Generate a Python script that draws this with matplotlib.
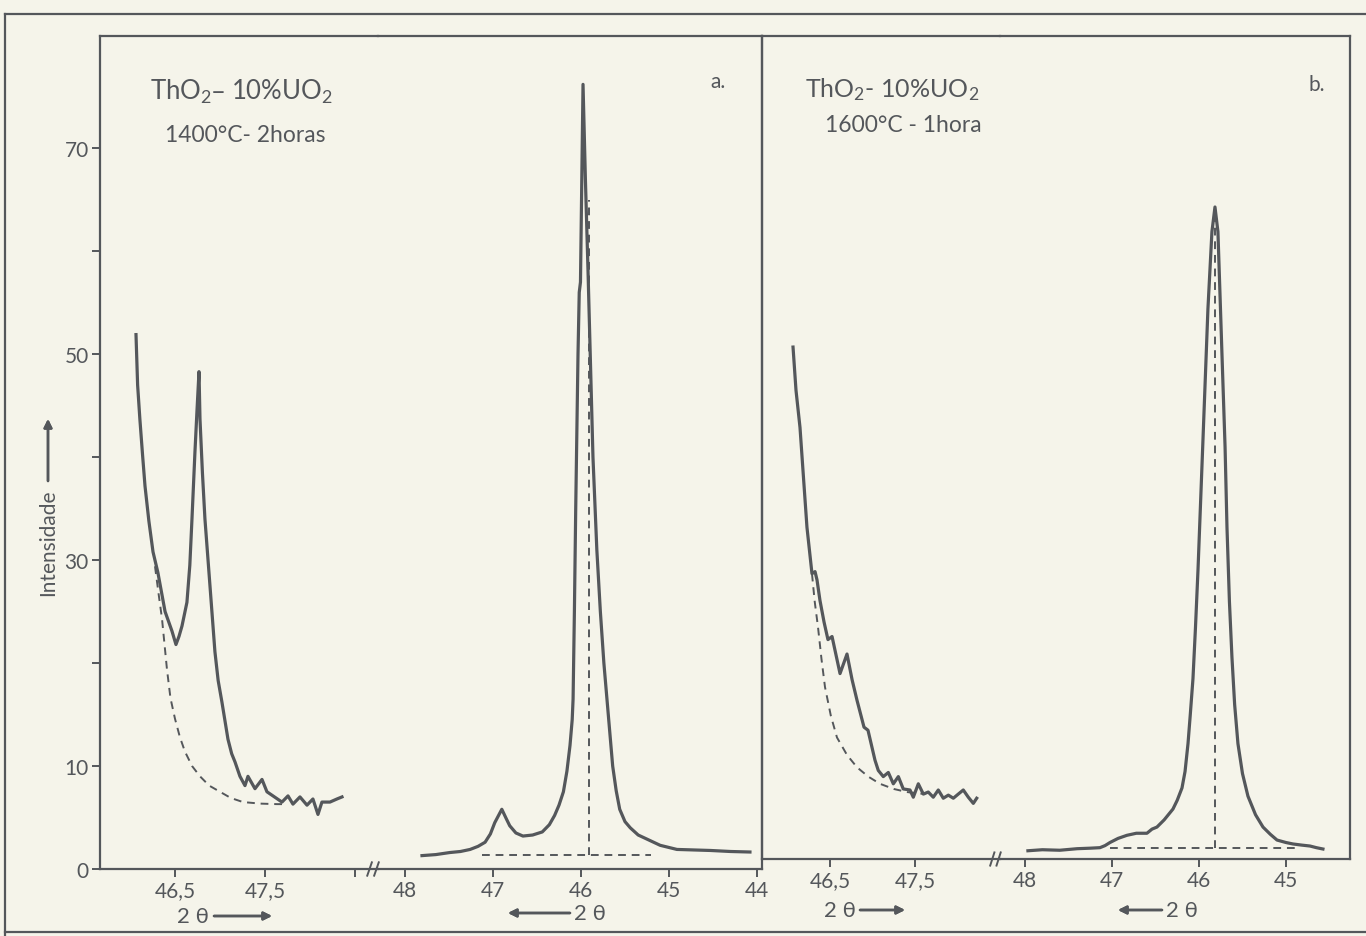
import matplotlib
matplotlib.use("Agg")
import matplotlib.pyplot as plt
from matplotlib.lines import Line2D

W, H = 1366, 937
BG = "#f5f4ea"
INK = "#54575b"

plt.rcParams["font.family"] = ["Lato", "DejaVu Sans"]
plt.rcParams["mathtext.default"] = "regular"

# ---- panel a, left section (2theta increasing to the right)
a1_x = [46.067, 46.085, 46.11, 46.14, 46.167, 46.21, 46.256, 46.31, 46.39, 46.467,
        46.511, 46.545, 46.578, 46.633, 46.665, 46.689, 46.722, 46.744, 46.767,
        46.778, 46.805, 46.833, 46.889, 46.944, 46.98, 47.022, 47.089, 47.13,
        47.167, 47.222, 47.278, 47.311, 47.389, 47.467, 47.522, 47.589, 47.689,
        47.756, 47.811, 47.889, 47.967, 48.033, 48.089, 48.133, 48.222, 48.3, 48.356]
a1_y = [51.9, 47.0, 43.7, 40.2, 37.2, 33.8, 30.8, 28.8, 25.0, 23.1,
        21.8, 22.6, 23.6, 25.9, 29.5, 34.0, 40.5, 44.4, 48.3,
        43.7, 38.5, 34.0, 27.5, 21.1, 18.3, 16.2, 12.6, 11.2,
        10.4, 9.0, 8.1, 9.0, 7.8, 8.7, 7.5, 7.1, 6.5,
        7.1, 6.3, 7.0, 6.2, 6.8, 5.3, 6.5, 6.5, 6.8, 7.0]
a1_bg_x = [46.278, 46.32, 46.356, 46.411, 46.45, 46.5, 46.555, 46.611, 46.69,
           46.778, 46.88, 47.0, 47.12, 47.256, 47.45, 47.633, 47.7]
a1_bg_y = [29.4, 26.6, 24.3, 19.4, 16.6, 14.6, 12.8, 11.4, 10.0,
           9.0, 8.1, 7.5, 6.9, 6.5, 6.35, 6.3, 6.3]

# ---- panel a, right section (2theta decreasing to the right)
a2_x = [47.807, 47.65, 47.49, 47.37, 47.26, 47.17, 47.09, 47.03, 46.98, 46.90,
        46.85, 46.81, 46.74, 46.66, 46.55, 46.44, 46.36, 46.30, 46.25, 46.20,
        46.16, 46.125, 46.10, 46.09, 46.075, 46.06, 46.034, 46.02, 46.006,
        45.977, 45.95, 45.92, 45.864, 45.82, 45.78, 45.74, 45.705, 45.67, 45.64,
        45.60, 45.56, 45.50, 45.44, 45.35, 45.25, 45.10, 44.91, 44.72, 44.53,
        44.30, 44.08]
a2_y = [1.3, 1.4, 1.6, 1.7, 1.9, 2.2, 2.6, 3.4, 4.5, 5.8,
        4.9, 4.2, 3.5, 3.2, 3.3, 3.6, 4.3, 5.2, 6.2, 7.5,
        9.5, 12.0, 14.5, 16.5, 25.0, 35.0, 50.0, 56.0, 57.0,
        76.2, 67.0, 58.0, 40.0, 31.0, 25.0, 20.0, 16.5, 13.0, 10.0,
        7.6, 5.8, 4.6, 4.0, 3.3, 2.9, 2.3, 1.9, 1.85, 1.8,
        1.7, 1.65]
a2_base = 1.4
a2_base_x = [47.13, 45.2]
a2_peak = 45.91
a2_peak_top = 65

# ---- panel b, left section
b1_x = [46.065, 46.1, 46.147, 46.19, 46.229, 46.288, 46.324, 46.347, 46.382, 46.43,
        46.476, 46.524, 46.618, 46.7, 46.76, 46.818, 46.9, 46.947, 47.029, 47.068,
        47.127, 47.186, 47.245, 47.304, 47.362, 47.441, 47.48, 47.539, 47.598,
        47.656, 47.715, 47.774, 47.833, 47.892, 47.951, 48.009, 48.068, 48.127,
        48.186, 48.226]
b1_y = [49.7, 45.5, 41.9, 36.8, 32.2, 27.7, 27.9, 27.1, 25.1, 23.0,
        21.3, 21.6, 18.0, 19.9, 17.4, 15.4, 12.8, 12.5, 9.6, 8.6,
        8.0, 8.4, 7.3, 8.0, 6.8, 6.7, 6.0, 7.3, 6.3,
        6.5, 6.0, 6.7, 5.9, 6.2, 5.9, 6.3, 6.7, 6.0,
        5.4, 5.9]
b1_bg_x = [46.288, 46.32, 46.359, 46.4, 46.441, 46.51, 46.582, 46.7, 46.818,
           46.95, 47.088, 47.25, 47.406, 47.62]
b1_bg_y = [27.7, 25.0, 22.5, 19.4, 16.7, 13.9, 11.8, 10.1, 8.9,
           8.0, 7.3, 6.8, 6.5, 6.3]

# ---- panel b, right section
b2_x = [47.966, 47.8, 47.6, 47.4, 47.25, 47.138, 47.08, 47.023, 46.93, 46.828,
        46.72, 46.598, 46.54, 46.483, 46.4, 46.299, 46.25, 46.195, 46.16, 46.126,
        46.1, 46.069, 46.04, 46.011, 45.954, 45.897, 45.851, 45.816, 45.782,
        45.736, 45.7, 45.678, 45.65, 45.621, 45.59, 45.552, 45.5, 45.437, 45.35,
        45.264, 45.18, 45.103, 45.0, 44.92, 44.82, 44.724, 44.65, 44.575]
b2_y = [0.8, 0.9, 0.85, 1.0, 1.05, 1.1, 1.3, 1.6, 2.0, 2.3,
        2.5, 2.5, 2.9, 3.1, 3.8, 4.85, 5.7, 6.9, 8.5, 11.2,
        14.0, 17.5, 22.5, 28.1, 40.7, 53.4, 60.9, 63.3, 60.9,
        49.1, 40.0, 32.2, 25.0, 19.6, 15.0, 11.2, 8.3, 6.1, 4.3,
        3.1, 2.4, 1.84, 1.6, 1.46, 1.35, 1.26, 1.1, 0.97]
b2_base = 1.07
b2_base_x = [47.02, 44.84]
b2_peak = 45.82
b2_peak_top = 62

y_ticks = [0, 10, 20, 30, 40, 50, 60, 70]
y_labels = ["0", "10", "", "30", "", "50", "", "70"]


def px(x0, y0, x1, y1):
    return [x0 / W, (H - y1) / H, (x1 - x0) / W, (y1 - y0) / H]


def style(ax, xlim, ylim, left, right):
    ax.set_facecolor("none")
    ax.set_xlim(*xlim)
    ax.set_ylim(*ylim)
    for s in ax.spines.values():
        s.set_color(INK)
        s.set_linewidth(1.6)
    ax.spines["left"].set_visible(left)
    ax.spines["right"].set_visible(right)
    ax.tick_params(colors=INK, labelcolor=INK, width=1.4, length=6,
                   labelsize=15, direction="out", pad=2)
    if not left:
        ax.tick_params(axis="y", left=False, labelleft=False)


fig = plt.figure(figsize=(W / 100, H / 100), dpi=100, facecolor=BG)

solid = dict(color=INK, lw=2.3, solid_joinstyle="round")
dash = dict(color=INK, lw=1.4, ls=(0, (4, 3)))

a1 = fig.add_axes(px(100, 37, 378, 870))
style(a1, (45.667, 48.756), (0, 80.9), True, False)
a1.set_yticks(y_ticks)
a1.set_yticklabels(y_labels)
a1.set_xticks([46.5, 47.5, 48.5])
a1.set_xticklabels(["46,5", "47,5", ""])
a1.plot(a1_x, a1_y, **solid)
a1.plot(a1_bg_x, a1_bg_y, **dash)

a2 = fig.add_axes(px(378, 37, 762, 870))
style(a2, (48.307, 43.943), (0, 80.9), False, True)
a2.set_xticks([48, 47, 46, 45, 44])
a2.set_xticklabels(["48", "47", "46", "45", "44"])
a2.plot(a2_x, a2_y, **solid)
a2.plot(a2_base_x, [a2_base, a2_base], **dash)
a2.plot([a2_peak, a2_peak], [a2_base, a2_peak_top], **dash)

b1 = fig.add_axes(px(762, 37, 1000, 860))
style(b1, (45.7, 48.5), (0, 79.9), True, False)
b1.tick_params(axis="y", left=False, labelleft=False)
b1.set_xticks([46.5, 47.5])
b1.set_xticklabels(["46,5", "47,5"])
b1.plot(b1_x, b1_y, **solid)
b1.plot(b1_bg_x, b1_bg_y, **dash)

b2 = fig.add_axes(px(1000, 37, 1350, 860))
style(b2, (48.287, 44.264), (0, 79.9), False, True)
b2.tick_params(axis="y", right=False)
b2.set_xticks([48, 47, 46, 45])
b2.set_xticklabels(["48", "47", "46", "45"])
b2.plot(b2_x, b2_y, **solid)
b2.plot(b2_base_x, [b2_base, b2_base], **dash)
b2.plot([b2_peak, b2_peak], [b2_base, b2_peak_top], **dash)

# axis break marks
for ax in (a2, b2):
    for dx in (-0.022, -0.004):
        ax.plot([dx - 0.006, dx + 0.006], [-0.008, 0.008], transform=ax.transAxes,
                color=INK, lw=1.4, clip_on=False)


def ftext(x, y, s, **kw):
    kw.setdefault("color", INK)
    fig.text(x / W, 1 - y / H, s, **kw)


def farrow(x0, y0, x1, y1):
    fig.add_artist(plt.annotate(
        "", xy=(x1 / W, 1 - y1 / H), xytext=(x0 / W, 1 - y0 / H),
        xycoords="figure fraction", textcoords="figure fraction",
        arrowprops=dict(arrowstyle="-|>", color=INK, lw=1.8,
                        mutation_scale=12, shrinkA=0, shrinkB=0)))


ftext(150, 92, "ThO$_2$– 10%UO$_2$", fontsize=18.5, va="center")
ftext(165, 135, "1400°C- 2horas", fontsize=16.5, va="center")
ftext(710, 82, "a.", fontsize=15, va="center")
ftext(805, 90, "ThO$_2$- 10%UO$_2$", fontsize=18, va="center")
ftext(825, 125, "1600°C - 1hora", fontsize=16.5, va="center")
ftext(1308, 85, "b.", fontsize=15, va="center")

ftext(48, 543, "Intensidade", fontsize=15, rotation=90, ha="center", va="center")
farrow(48, 482, 48, 420)

ftext(193, 917, "2 θ", fontsize=16, ha="center", va="center")
farrow(214, 917, 272, 917)
ftext(590, 914, "2 θ", fontsize=16, ha="center", va="center")
farrow(570, 914, 508, 914)
ftext(840, 911, "2 θ", fontsize=16, ha="center", va="center")
farrow(860, 911, 905, 911)
ftext(1182, 911, "2 θ", fontsize=16, ha="center", va="center")
farrow(1162, 911, 1118, 911)

# outer frame of the scanned sheet
for xs, ys in (((5, 1366), (15, 15)), ((5, 5), (15, 937)), ((5, 1366), (933, 933))):
    fig.add_artist(Line2D([x / W for x in xs], [1 - y / H for y in ys],
                          color=INK, lw=1.6))

fig.savefig("out.png", dpi=100, facecolor=BG)
